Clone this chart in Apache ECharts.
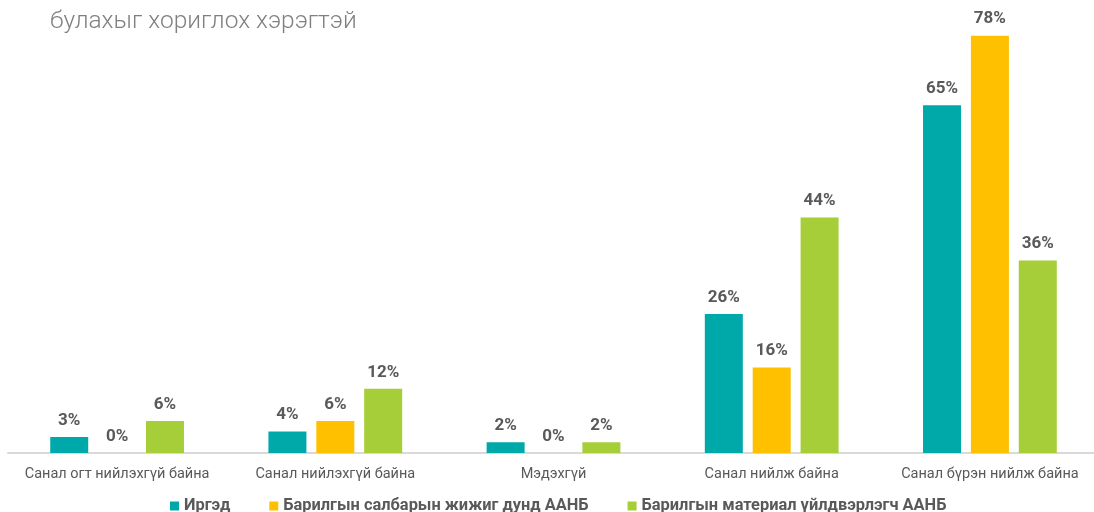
<!DOCTYPE html>
<html>
<head>
  <meta charset="utf-8">
  <title>chart</title>
  <script src="https://cdn.jsdelivr.net/npm/echarts@6/dist/echarts.min.js"></script>
<style>
  html,body{margin:0;padding:0;background:#fff;}
  #main{width:1094px;height:512px;}
</style>
</head>
<body>
<div id="main"></div>
<script type="text/javascript">
    var categories = ['Санал огт нийлэхгүй байна', 'Санал нийлэхгүй байна', 'Мэдэхгүй', 'Санал нийлж байна', 'Санал бүрэн нийлж байна'];
    var seriesNames = ['Иргэд', 'Барилгын салбарын жижиг дунд ААНБ', 'Барилгын материал үйлдвэрлэгч ААНБ'];
    var irged = [3, 4, 2, 26, 65];
    var salbar = [0, 6, 0, 16, 78];
    var material = [6, 12, 2, 44, 36];
    var colors = ['#00A9A9', '#FFC000', '#A6CE39'];

    var labelStyle = {
        show: true,
        position: 'top',
        distance: 8,
        formatter: '{c}%',
        fontFamily: 'Roboto',
        fontWeight: 'bold',
        fontSize: 17,
        color: '#595959'
    };

    function makeSeries(name, data, i) {
        return {
            name: name,
            type: 'bar',
            data: data,
            barWidth: 38,
            barGap: '26%',
            itemStyle: { color: colors[i] },
            label: labelStyle
        };
    }

    var chart = echarts.init(document.getElementById('main'));
    var option = {
        animation: false,
        title: {
            text: 'булахыг хориглох хэрэгтэй',
            left: 45,
            top: 4,
            textStyle: {
                fontFamily: 'Roboto',
                fontWeight: 300,
                fontSize: 24.5,
                color: '#7f7f7f'
            }
        },
        legend: {
            data: seriesNames,
            bottom: -2,
            left: 170,
            padding: 0,
            itemWidth: 9,
            itemHeight: 9,
            itemGap: 39,
            icon: 'rect',
            textStyle: {
                fontFamily: 'Roboto',
                fontWeight: 'bold',
                fontSize: 16.4,
                color: '#595959'
            }
        },
        grid: {
            left: 8,
            width: 1091,
            top: 25,
            height: 428,
            containLabel: false,
            outerBoundsMode: 'none'
        },
        xAxis: {
            type: 'category',
            data: categories,
            axisLine: { lineStyle: { color: '#d9d9d9', width: 2 } },
            axisTick: { show: false },
            axisLabel: {
                interval: 0,
                margin: 14,
                fontFamily: 'Roboto',
                fontSize: 14.5,
                color: '#595959'
            }
        },
        yAxis: {
            type: 'value',
            min: 0,
            max: 80,
            show: false
        },
        series: [
            makeSeries(seriesNames[0], irged, 0),
            makeSeries(seriesNames[1], salbar, 1),
            makeSeries(seriesNames[2], material, 2)
        ]
    };
    chart.setOption(option);
</script>
</body>
</html>
